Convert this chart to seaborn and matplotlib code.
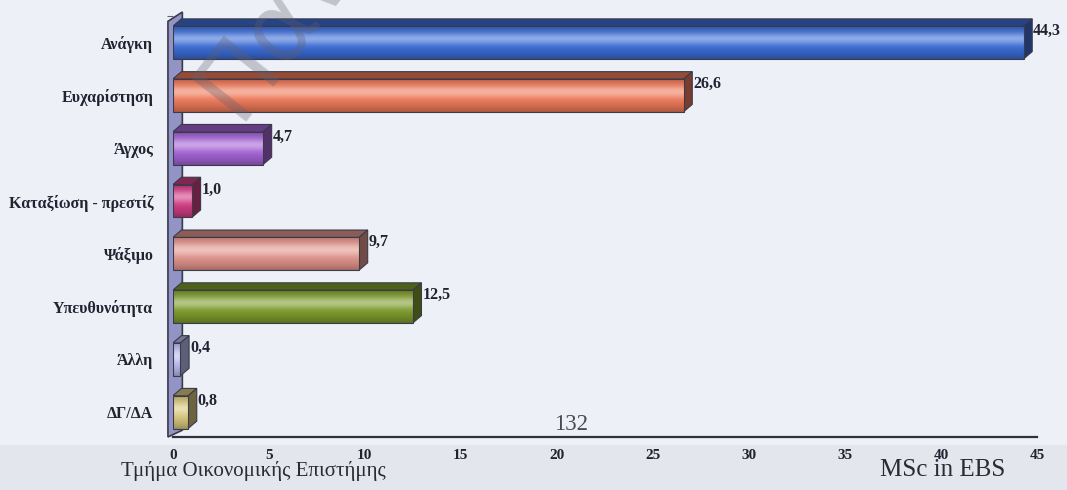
import numpy as np
import pandas as pd
import matplotlib
matplotlib.use("Agg")
import matplotlib.pyplot as plt
from matplotlib.patches import Polygon, Rectangle
from matplotlib.ticker import FixedLocator
import matplotlib.colors as mcolors
import seaborn as sns

# Survey answers (percent of respondents)
categories = ["Ανάγκη", "Ευχαρίστηση", "Άγχος", "Καταξίωση - πρεστίζ",
              "Ψάξιμο", "Υπευθυνότητα", "Άλλη", "ΔΓ/ΔΑ"]
values = [44.3, 26.6, 4.7, 1.0, 9.7, 12.5, 0.4, 0.8]
bar_colors = ["#3b6cd6", "#ef7a5a", "#a462d6", "#d23c84",
              "#e2958c", "#7d9c2c", "#bcbcf0", "#d8c87c"]
x_ticks = [0, 5, 10, 15, 20, 25, 30, 35, 40, 45]

sns.set_theme(style="white")
plt.rcParams["font.family"] = ["Liberation Serif", "DejaVu Serif"]

BG = "#eef0f8"
fig = plt.figure(figsize=(10.67, 4.9), dpi=100, facecolor=BG)
# lower band of the slide
fig.patches.append(Rectangle((0, 0), 1, 0.092, transform=fig.transFigure,
                             facecolor="#e4e6ed", edgecolor="none", zorder=-5))

ax = fig.add_axes([0.1619, 0.1082, 0.81, 0.8673])
ax.set_facecolor("none")

df = pd.DataFrame({"cat": categories, "val": values})
sns.barplot(data=df, x="val", y="cat", hue="cat", palette=bar_colors,
            legend=False, orient="h", width=0.62, ax=ax, saturation=1,
            edgecolor="#3a3a48", linewidth=0.8, zorder=3)

DX, DY = 0.45, 0.14  # depth of the pseudo-3D extrusion


def shade(col, k):
    r, g, b = mcolors.to_rgb(col)
    return (r * k, g * k, b * k)


t = np.linspace(0, 1, 64)
highlight = np.exp(-((t - 0.38) / 0.18) ** 2) * 0.42
darken = 1 - 0.28 * (np.abs(t - 0.45) / 0.55) ** 2

for patch, col, v in zip(ax.patches, bar_colors, values):
    x0, y0 = patch.get_x(), patch.get_y()
    w, h = patch.get_width(), patch.get_height()
    base = np.array(mcolors.to_rgb(col))
    rows = base[None, :] * darken[:, None]
    rows = rows + (1 - rows) * highlight[:, None]
    grad = np.clip(rows, 0, 1)[:, None, :]
    im = ax.imshow(grad, extent=(x0, x0 + w, y0 + h, y0), origin="upper",
                   aspect="auto", interpolation="bilinear", zorder=2.5)
    im.set_clip_path(patch)
    patch.set_facecolor("none")

    top = Polygon([(x0, y0), (x0 + w, y0), (x0 + w + DX, y0 - DY), (x0 + DX, y0 - DY)],
                  closed=True, facecolor=shade(col, 0.62), edgecolor="#3a3a48",
                  linewidth=0.8, zorder=2.4)
    side = Polygon([(x0 + w, y0), (x0 + w + DX, y0 - DY), (x0 + w + DX, y0 + h - DY),
                    (x0 + w, y0 + h)],
                   closed=True, facecolor=shade(col, 0.5), edgecolor="#3a3a48",
                   linewidth=0.8, zorder=2.4)
    ax.add_patch(top)
    ax.add_patch(side)

    cy = y0 + h / 2
    ax.text(v + 0.5, cy - 0.22, f"{v:.1f}".replace(".", ","), ha="left", va="center",
            fontsize=11.5, fontweight="bold", color="#222230", zorder=6, clip_on=False)

ax.set_xlim(0, 45)
ax.set_ylim(7.47, -0.58)

# back side wall of the plot area (x in data units, y in axes fraction)
wall = Polygon([(-0.25, 0.0), (-0.25, 0.978), (0.5, 1.0), (0.5, 0.016)],
               closed=True, transform=ax.get_xaxis_transform(), facecolor="#9294c6",
               edgecolor="#3a3a48", linewidth=1.2, zorder=1, clip_on=False)
ax.add_patch(wall)

for s in ["top", "right", "left"]:
    ax.spines[s].set_visible(False)
ax.spines["bottom"].set_color("#303040")
ax.spines["bottom"].set_linewidth(1.6)
ax.spines["bottom"].set_zorder(4)

ax.set_xticks(x_ticks)
ax.set_xticklabels([str(v) for v in x_ticks])
ax.tick_params(axis="x", direction="out", length=3, width=0.8, color="#606070",
               pad=6, labelsize=11)
for lab in ax.get_xticklabels():
    lab.set_fontweight("bold")
    lab.set_color("#222230")

ax.yaxis.set_minor_locator(FixedLocator([i + 0.5 for i in range(-1, 8)]))
ax.tick_params(axis="y", which="major", length=0, pad=14, labelsize=11.5)
ax.tick_params(axis="y", which="minor", left=True, length=4, width=0.8, color="#606070")
for lab in ax.get_yticklabels():
    lab.set_fontweight("bold")
    lab.set_color("#222230")

ax.set_xlabel("")
ax.set_ylabel("")

# watermark
fig.text(0.222, 0.752, "Παν", rotation=52, rotation_mode="anchor",
         fontsize=70, color="#606070", alpha=0.32, ha="left", va="baseline",
         family=["DejaVu Sans"], zorder=10)

# slide footer
fig.text(0.113, 0.028, "Τμήμα Οικονομικής Επιστήμης", fontsize=15, color="#2a2a38",
         ha="left", va="baseline")
fig.text(0.825, 0.028, "MSc in EBS", fontsize=18, color="#2a2a38",
         ha="left", va="baseline")
fig.text(0.5355, 0.122, "132", fontsize=16.5, color="#4a4a58", ha="center", va="baseline")

fig.savefig("out.png", dpi=100, facecolor=BG)
